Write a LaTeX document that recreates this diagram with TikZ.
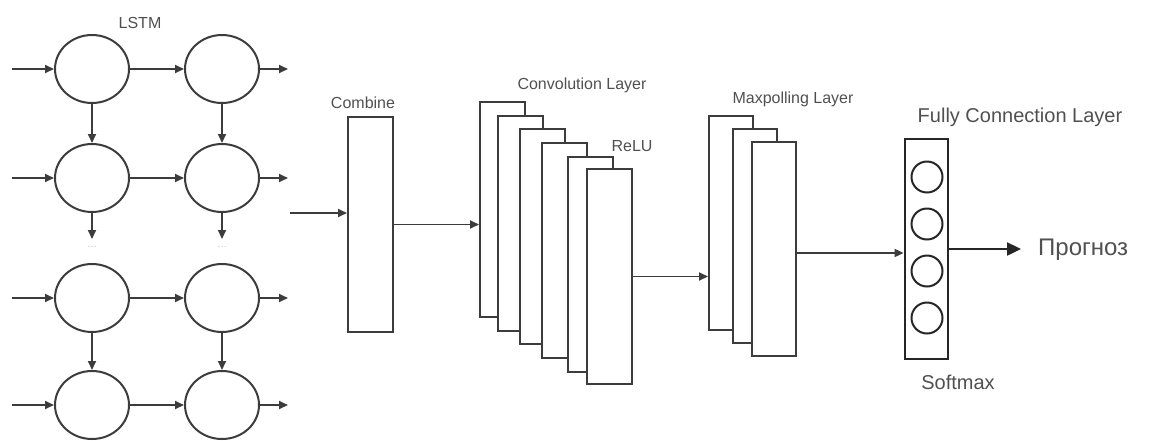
\documentclass[tikz,border=0pt]{standalone}
\usepackage{fontspec}
\setmainfont{Liberation Sans}
\usetikzlibrary{arrows.meta,shapes.geometric}
\definecolor{ln}{HTML}{3C3C3C}
\definecolor{tx}{HTML}{505050}
\begin{document}
\begin{tikzpicture}[x=1pt,y=-1pt,
  cell/.style={draw=ln,line width=2pt,ellipse,minimum width=74pt,minimum height=68pt,inner sep=0pt},
  layer/.style={draw=ln,line width=2pt,fill=white,rectangle,inner sep=0pt,minimum width=45pt,minimum height=215pt},
  arr/.style={draw=ln,line width=1.8pt,-{Triangle[length=9pt,width=8pt]}},
  lbl/.style={text=tx,font=\fontsize{16}{18}\selectfont,inner sep=0pt},
  neuron/.style={draw=black!85,line width=2pt,circle,minimum size=31pt,inner sep=0pt}]
\useasboundingbox (0,0) rectangle (1164,440);
% LSTM grid
\node[lbl] (lstm) at (140,23) {LSTM};
\node[cell] (c11) at (92,69) {};
\node[cell] (c12) at (222,69) {};
\node[cell] (c21) at (92,178) {};
\node[cell] (c22) at (222,178) {};
\node[cell] (c31) at (92,298) {};
\node[cell] (c32) at (222,298) {};
\node[cell] (c41) at (92,405) {};
\node[cell] (c42) at (222,405) {};
\foreach \r/\y in {1/69,2/178,3/298,4/405}{
  \coordinate (in\r) at (12,\y);
  \coordinate (out\r) at (288,\y);
  \draw[arr] (in\r) -- (c\r1.west);
  \draw[arr] (c\r1.east) -- (c\r2.west);
  \draw[arr] (c\r2.east) -- (out\r);
}
\draw[arr] (c11.south) -- (c21.north);
\draw[arr] (c12.south) -- (c22.north);
\draw[arr] (c31.south) -- (c41.north);
\draw[arr] (c32.south) -- (c42.north);
\coordinate (d1) at (92,239);
\coordinate (d2) at (222,239);
\draw[arr] (c21.south) -- (d1);
\draw[arr] (c22.south) -- (d2);
\node[text=black!25,font=\fontsize{10}{10}\selectfont,inner sep=0pt] (dots1) at (92,247) {\dots};
\node[text=black!25,font=\fontsize{10}{10}\selectfont,inner sep=0pt] (dots2) at (222,247) {\dots};
% Combine
\node[layer] (comb) at (370.5,224.5) {};
\node[lbl] (combl) at (363,103) {Combine};
\coordinate (cin) at (290,213);
\draw[arr] (cin) -- (comb.west |- cin);
% Convolution stack
\node[layer] (r1) at (502.5,209.5) {};
\node[layer] (r2) at (520.5,223.5) {};
\node[layer] (r3) at (542.5,236.5) {};
\node[layer] (r4) at (564.5,250.5) {};
\node[layer] (r5) at (590.5,264.5) {};
\node[layer] (r6) at (609.5,276.5) {};
\node[lbl] (convl) at (582,85) {Convolution Layer};
\node[lbl] (relul) at (632,146) {ReLU};
\draw[arr] (comb.east) -- (r1.west |- comb.east);
% Maxpooling stack
\node[layer,minimum width=44pt,minimum height=214pt] (m1) at (731,223) {};
\node[layer,minimum width=44pt,minimum height=214pt] (m2) at (755,236) {};
\node[layer,minimum width=44pt,minimum height=214pt] (m3) at (774,249) {};
\node[lbl] (maxl) at (793,99) {Maxpolling Layer};
\draw[arr] (r6.east) -- (m1.west |- r6.east);
% Fully connected
\node[draw=black!85,line width=2.8pt,rectangle,minimum width=43pt,minimum height=220pt,inner sep=0pt] (fc) at (926.5,249) {};
\node[neuron] (n1) at (927,177) {};
\node[neuron] (n2) at (927,224) {};
\node[neuron] (n3) at (927,271) {};
\node[neuron] (n4) at (927,318) {};
\node[lbl,font=\fontsize{20}{22}\selectfont] (fcl) at (1020,117) {Fully Connection Layer};
\node[lbl,font=\fontsize{20}{22}\selectfont] (smx) at (958,382) {Softmax};
\coordinate (mo) at (0,253);
\draw[arr] (m3.east |- mo) -- (fc.west |- mo);
\node[lbl,font=\fontsize{24}{26}\selectfont,anchor=west] (prog) at (1038,250) {Прогноз};
\coordinate (po) at (1021,249);
\draw[draw=black!85,line width=2.4pt,-{Triangle[length=14pt,width=13pt]}] (fc.east |- po) -- (po);
\end{tikzpicture}
\end{document}
